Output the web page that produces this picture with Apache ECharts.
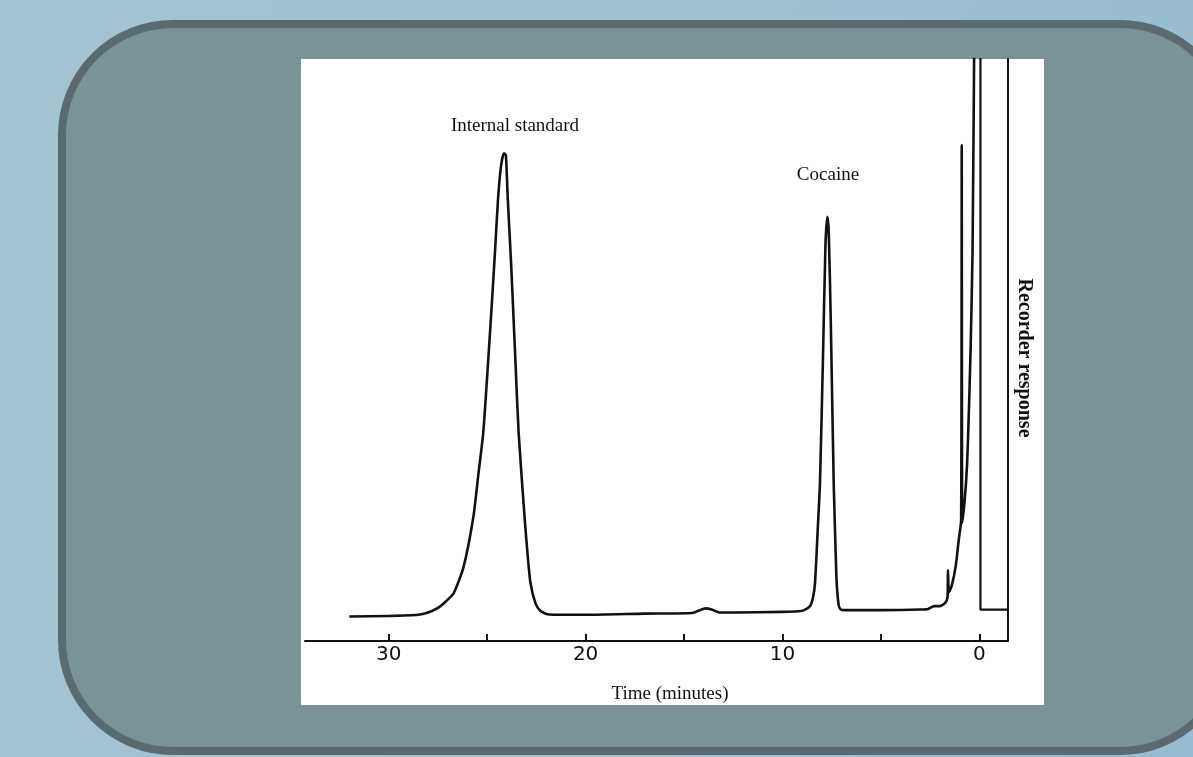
<!DOCTYPE html>
<html>
<head>
<meta charset="utf-8">
<script src="https://cdn.jsdelivr.net/npm/echarts@6/dist/echarts.min.js"></script>
<style>
  html, body { margin: 0; padding: 0; width: 1193px; height: 757px; overflow: hidden; }
  body { background: linear-gradient(100deg, #a4c4d2 0%, #a1c1d1 60%, #95bccf 100%); }
  #panel {
    position: absolute; left: 58px; top: 20px; width: 1161px; height: 719px;
    background: #7a9397; border: 8px solid #596b6e; border-radius: 115px;
  }
  #paper { position: absolute; left: 301px; top: 59px; width: 743px; height: 646px; background: #fff; }
  #chart { position: absolute; left: 0; top: 0; width: 1193px; height: 757px; }
</style>
</head>
<body>
<div id="panel"></div>
<div id="paper"></div>
<div id="chart"></div>
<script>
// recorder trace (time in minutes, response in % of full scale)
const internalStandardMin = [32.0, 30.0, 28.5, 28.0, 27.5, 27.1, 26.7, 26.2, 25.7, 25.45, 25.2, 24.95, 24.75, 24.6, 24.45, 24.3, 24.15, 24.05, 23.95, 23.8, 23.7, 23.55, 23.4, 23.1, 22.95, 22.8, 22.55, 22.3, 21.95, 21.0];
const internalStandardResp = [4.2, 4.3, 4.5, 4.9, 5.7, 6.8, 8.2, 12.7, 21.3, 28.5, 35.7, 48, 58.6, 67, 75.8, 81.5, 83.8, 83.5, 75.8, 66, 58.6, 47, 35.7, 21.3, 15, 10, 6.5, 5.2, 4.6, 4.5];

const baselineMin = [20, 17, 14.6, 14.2, 13.9, 13.6, 13.2, 12.5, 10, 9.2];
const baselineResp = [4.5, 4.7, 4.8, 5.3, 5.6, 5.4, 4.9, 4.9, 5.0, 5.1];

const cocaineMin = [8.9, 8.6, 8.45, 8.35, 8.2, 8.1, 7.95, 7.82, 7.72, 7.65, 7.55, 7.4, 7.3, 7.25, 7.15, 7.05, 6.8];
const cocaineResp = [5.3, 6.0, 7.5, 10, 20, 27, 48, 68, 72.9, 70, 55, 27, 15, 10, 6.2, 5.4, 5.3];

const solventMin = [5, 3, 2.6, 2.3, 2.0, 1.75, 1.62, 1.6, 1.55, 1.4, 1.2, 1.05, 0.93, 0.9, 0.88, 0.85, 0.75, 0.63, 0.55, 0.45, 0.35, 0.25];
const solventResp = [5.3, 5.4, 5.5, 6.0, 6.0, 6.5, 7.5, 12.2, 8.4, 9.6, 13, 17.4, 20.8, 85.2, 20.3, 20.3, 24.2, 30.2, 38, 50, 67, 110];

// pen return after injection marker
const penMin = [0.25, -0.05, -0.05, -1.45];
const penResp = [110, 110, 5.4, 5.4];

const tickMinutes = [0, 5, 10, 15, 20, 25, 30];
const labelMinutes = [0, 10, 20, 30];
const peakNames = ['Internal standard', 'Cocaine'];

const traceMin = [].concat(internalStandardMin, baselineMin, cocaineMin, solventMin);
const traceResp = [].concat(internalStandardResp, baselineResp, cocaineResp, solventResp);
const trace = traceMin.map((t, i) => [t, traceResp[i]]);
const pen = penMin.map((t, i) => [t, penResp[i]]);

const serif = '"Liberation Serif", "DejaVu Serif", serif';
const ink = '#111';

function label(text, x, y) {
    return {
        text: text, left: x, top: y, textAlign: 'center', padding: 0,
        textStyle: { fontFamily: serif, fontSize: 19, fontWeight: 'normal', color: ink }
    };
}

const chart = echarts.init(document.getElementById('chart'));

const option = {
    animation: false,
    title: [
        label(peakNames[0], 515, 117),
        label(peakNames[1], 828, 166),
        label('Time (minutes)', 670, 685)
    ],
    grid: { left: 305, right: 185, top: 59, bottom: 116 },
    xAxis: {
        type: 'value',
        inverse: true,
        min: -1.45,
        max: 34.25,
        axisLine: { show: true, lineStyle: { color: ink, width: 2 } },
        axisTick: { show: true, inside: true, length: 7, customValues: tickMinutes,
                    lineStyle: { color: ink, width: 2 } },
        axisLabel: { customValues: labelMinutes, margin: 4, color: ink, fontSize: 20,
                     fontFamily: '"DejaVu Sans", sans-serif' },
        splitLine: { show: false }
    },
    yAxis: {
        type: 'value',
        position: 'right',
        min: 0,
        max: 100,
        name: 'Recorder response',
        nameLocation: 'middle',
        nameRotate: -90,
        nameGap: 6,
        nameTextStyle: { fontFamily: serif, fontSize: 20, fontWeight: 'bold', color: ink,
                         padding: [0, 0, 0, 16] },
        axisLine: { show: true, onZero: false, lineStyle: { color: ink, width: 2 } },
        axisTick: { show: false },
        axisLabel: { show: false },
        splitLine: { show: false }
    },
    series: [
        {
            type: 'line',
            data: trace,
            clip: true,
            symbol: 'none',
            smooth: 0.2,
            lineStyle: { color: ink, width: 2.6, join: 'round' }
        },
        {
            type: 'line',
            data: pen,
            clip: true,
            symbol: 'none',
            lineStyle: { color: ink, width: 2.2 }
        }
    ]
};

chart.setOption(option);
</script>
</body>
</html>
